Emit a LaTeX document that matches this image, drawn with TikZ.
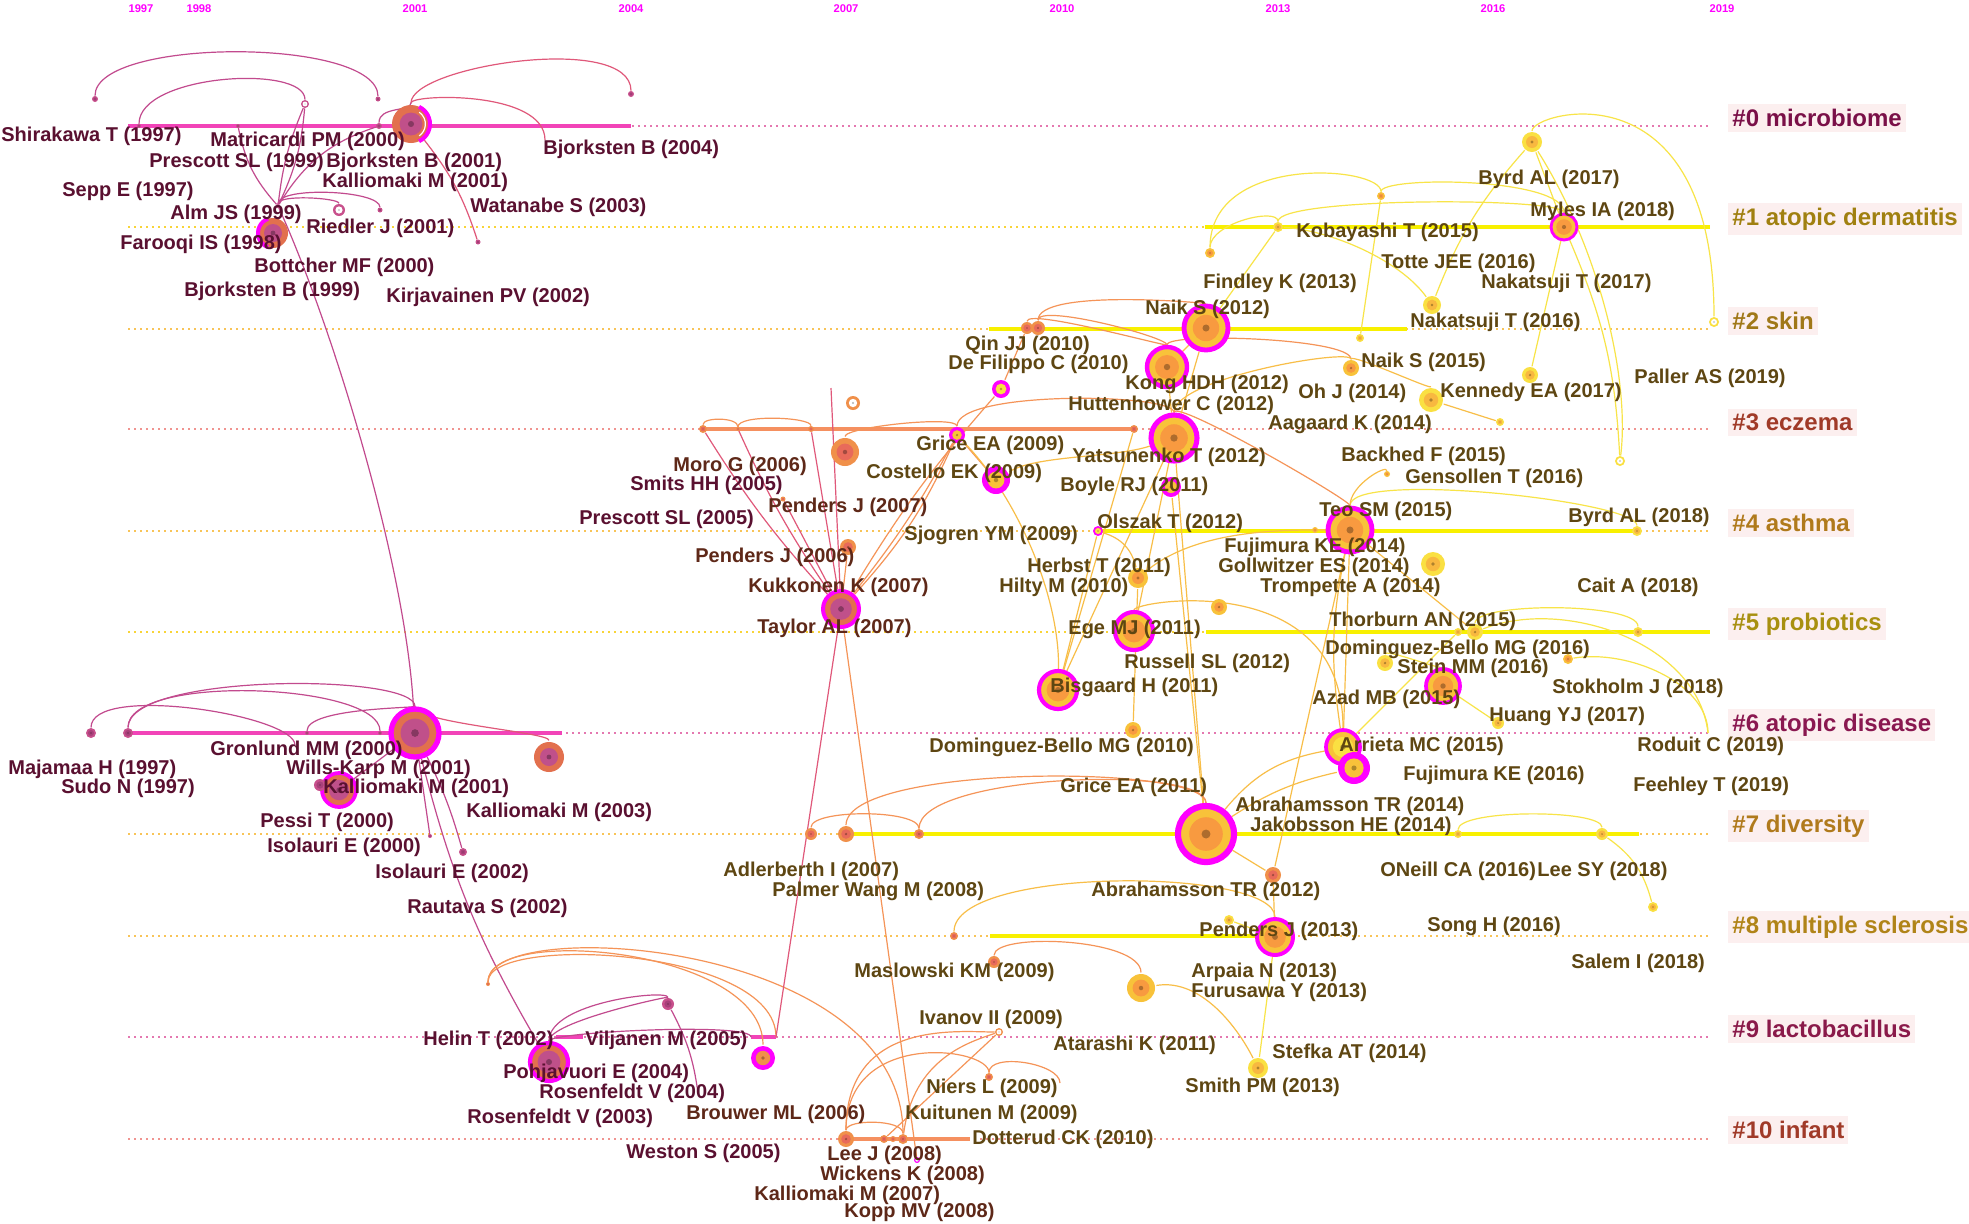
\documentclass[tikz,border=0pt]{standalone}
\usepackage{fontspec}
\setmainfont{Liberation Sans}
\pgfdeclarelayer{lanes}
\pgfdeclarelayer{arcs}
\pgfsetlayers{lanes,arcs,main}
\definecolor{mag}{HTML}{FF00FF}
\definecolor{cE}{HTML}{C8508C}
\definecolor{cEi}{HTML}{A8407A}
\definecolor{cO1}{HTML}{E2704E}
\definecolor{cI1}{HTML}{C0508A}
\definecolor{cO}{HTML}{F0904A}
\definecolor{cOi}{HTML}{E86A5A}
\definecolor{cYO}{HTML}{F8C23A}
\definecolor{cYOi}{HTML}{F89A40}
\definecolor{cY}{HTML}{FAE042}
\definecolor{cYi}{HTML}{F8B840}
\definecolor{ce0}{HTML}{C24A8E}
\definecolor{ce1}{HTML}{E0587A}
\definecolor{ceo}{HTML}{F59458}
\definecolor{ceyo}{HTML}{F8BE48}
\definecolor{cey}{HTML}{F8E448}
\definecolor{labA}{HTML}{5A1030}
\definecolor{labB}{HTML}{5E2818}
\definecolor{labC}{HTML}{5E4612}
\definecolor{cbox}{HTML}{FCEFEF}
\definecolor{k0}{HTML}{7A1048}
\definecolor{k1}{HTML}{A08010}
\definecolor{k2}{HTML}{A07818}
\definecolor{k3}{HTML}{A03A28}
\definecolor{k4}{HTML}{B07A1C}
\definecolor{k5}{HTML}{A89010}
\definecolor{k6}{HTML}{8A1850}
\definecolor{k8}{HTML}{B08418}
\definecolor{k9}{HTML}{8A1A4A}
\definecolor{dPink}{HTML}{E478B0}
\definecolor{dYel}{HTML}{F8D438}
\definecolor{dYO}{HTML}{F8C458}
\definecolor{dSal}{HTML}{F09490}
\definecolor{sMag}{HTML}{F244B8}
\definecolor{sYel}{HTML}{F8F000}
\definecolor{sOr}{HTML}{F59060}
\tikzset{
  lbl/.style={font=\fontsize{10}{12}\selectfont\bfseries, inner sep=0pt, anchor=west},
  clbl/.style={font=\fontsize{12}{14}\selectfont\bfseries, fill=cbox, inner xsep=2pt, inner ysep=2.5pt, anchor=west},
  yr/.style={font=\fontsize{5.6}{6}\selectfont\bfseries, text=mag, inner sep=0pt},
  e0/.style={draw=ce0, line width=0.6pt},
  e1/.style={draw=ce1, line width=0.6pt},
  eo/.style={draw=ceo, line width=0.6pt},
  eyo/.style={draw=ceyo, line width=0.6pt},
  ey/.style={draw=cey, line width=0.6pt},
  lanedot/.style={line width=1.1pt, dash pattern=on 1.1pt off 1.9pt},
  lanesolid/.style={line width=2pt},
}
\newcommand\citnode[7]{%
  \node[circle,inner sep=0pt,minimum size={#4*1pt},fill=#5,draw=#7,line width={#4*0.11pt}] (#1) at (#2,-#3) {};
  \fill[#6] (#2,-#3) circle ({#4*0.3pt});
  \fill[#6!70!black] (#2,-#3) circle ({#4*0.08pt});}
\newcommand\arcup[5][]{\draw[#1] (#2) .. controls +(0,#4) and +(0,#5) .. (#3);}
\newcommand\lab[5]{\node[lbl,text=#4] (#1) at (#2,-#3) {#5};}
\newcommand\clab[4]{\node[clbl,text=#3] (#1) at (1728,-#2) {#4};}
\begin{document}
\begin{tikzpicture}[x=0.5pt,y=0.5pt]
\useasboundingbox (0,0) rectangle (1969,-1223);
\begin{pgfonlayer}{lanes}
\fill[white] (0,0) rectangle (1969,-1223);
\draw[lanedot,dPink] (128,-126) -- (1710,-126);
\draw[lanedot,dYel] (128,-227) -- (1710,-227);
\draw[lanedot,dYO] (128,-329) -- (1710,-329);
\draw[lanedot,dSal] (128,-429) -- (1710,-429);
\draw[lanedot,dYO] (128,-531) -- (1710,-531);
\draw[lanedot,dYel] (128,-632) -- (1710,-632);
\draw[lanedot,dPink] (128,-733) -- (1710,-733);
\draw[lanedot,dYO] (128,-834) -- (1710,-834);
\draw[lanedot,dYO] (128,-936) -- (1710,-936);
\draw[lanedot,dPink] (128,-1037) -- (1710,-1037);
\draw[lanedot,dSal] (128,-1139) -- (1710,-1139);
\draw[lanesolid,sMag] (128,-126) -- (631,-126);
\draw[lanesolid,sYel] (1205,-227) -- (1710,-227);
\draw[lanesolid,sYel] (989,-329) -- (1407,-329);
\draw[lanesolid,sOr] (703,-429) -- (1134,-429);
\draw[lanesolid,sYel] (1100,-531) -- (1637,-531);
\draw[lanesolid,sYel] (1206,-632) -- (1710,-632);
\draw[lanesolid,sMag] (128,-733) -- (562,-733);
\draw[lanesolid,sYel] (846,-834) -- (1639,-834);
\draw[lanesolid,sYel] (990,-936) -- (1270,-936);
\draw[lanesolid,sMag] (556,-1037) -- (583,-1037);
\draw[lanesolid,sMag] (751,-1037) -- (776,-1037);
\draw[lanesolid,sOr] (846,-1139) -- (970,-1139);
\end{pgfonlayer}
% years
\node[yr] (y1997) at (141,-9) {1997};
\node[yr] (y1998) at (199,-9) {1998};
\node[yr] (y2001) at (415,-9) {2001};
\node[yr] (y2004) at (631,-9) {2004};
\node[yr] (y2007) at (846,-9) {2007};
\node[yr] (y2010) at (1062,-9) {2010};
\node[yr] (y2013) at (1278,-9) {2013};
\node[yr] (y2016) at (1493,-9) {2016};
\node[yr] (y2019) at (1722,-9) {2019};
% nodes lane 0
\citnode{n0a}{95}{99}{3}{cE}{cEi}{none}
\citnode{n0b}{305}{104}{4}{cE}{white}{none}
\citnode{n0c}{378}{99}{2.5}{cE}{cEi}{none}
\citnode{n0d}{631}{94}{3}{cE}{cEi}{none}
\citnode{n0e}{139}{126}{2}{cE}{cEi}{none}
\citnode{n0f}{238}{126}{2}{cE}{cEi}{none}
\citnode{n0g}{379}{126}{3}{cE}{cEi}{none}
\citnode{n0big}{411}{124}{19}{cO1}{cI1}{none}
\draw[mag,line width=2pt] (n0big.center) ++(65:9.5pt) arc[start angle=65,end angle=-65,radius=9.5pt];
\draw[white,line width=0.6pt] (n0big.center) ++(55:7.2pt) arc[start angle=55,end angle=-55,radius=7.2pt];
\citnode{n0far}{273}{233}{15}{cO1}{cI1}{none}
\draw[mag,line width=2pt] (n0far.center) ++(110:7.5pt) arc[start angle=110,end angle=250,radius=7.5pt];
\citnode{n0rie}{339}{210}{6}{cE}{white}{none}
\citnode{n0h}{380}{210}{2.5}{cE}{cEi}{none}
\citnode{n0i}{478}{242}{2.5}{cE}{cEi}{none}
\citnode{n0alm}{278}{206}{2}{cE}{cEi}{none}
\coordinate (n0k) at (545,-140);
% lane 1
\citnode{n1myles}{1564}{227}{13}{cYO}{cYOi}{mag}
\citnode{n1byrd}{1532}{142}{10}{cY}{cYi}{none}
\citnode{n1a}{1381}{196}{4}{cYO}{cYOi}{none}
\citnode{n1b}{1278}{227}{5}{cY}{cYi}{none}
\citnode{n1c}{1210}{253}{5}{cYO}{cYOi}{none}
% lane 2
\citnode{n2naik}{1206}{328}{22}{cYO}{cYOi}{mag}
\citnode{n2a}{1027}{328}{6}{cO}{cOi}{none}
\citnode{n2b}{1038}{328}{7}{cO}{cOi}{none}
\citnode{n2c}{1432}{305}{9}{cY}{cYi}{none}
\citnode{n2d}{1714}{322}{5}{cY}{white}{none}
\citnode{n2e}{1360}{338}{4}{cY}{cYi}{none}
\citnode{n2kong}{1167}{367}{20}{cYO}{cYOi}{mag}
\citnode{n2defil}{1001}{389}{9}{mag}{cY}{none}
\citnode{n2naik15}{1351}{368}{8}{cYO}{cYOi}{none}
\citnode{n2kenn}{1431}{400}{12}{cY}{cYi}{none}
\citnode{n2f}{1530}{375}{8}{cY}{cYi}{none}
\citnode{n2g}{1500}{422}{4}{cY}{cYi}{none}
\citnode{n2h}{1620}{461}{5}{cY}{white}{none}
% lane 3
\citnode{n3a}{703}{429}{4}{cO}{cOi}{none}
\citnode{n3b}{738}{429}{2}{cO}{cOi}{none}
\citnode{n3c}{811}{429}{3}{cO}{cOi}{none}
\citnode{n3d}{1134}{429}{4}{cO}{cOi}{none}
\citnode{n3big}{1174}{438}{23}{cYO}{cYOi}{mag}
\citnode{n3grice}{957}{435}{8}{mag}{cYO}{none}
\citnode{n3e}{845}{452}{14}{cO}{cOi}{none}
\citnode{n3f}{853}{403}{7}{cO}{white}{none}
\coordinate (n3top) at (831,-388);
% lane 4
\citnode{n4cost}{996}{480}{14}{mag}{cYO}{none}
\citnode{n4boyle}{1171}{487}{10}{mag}{cYO}{none}
\citnode{n4olszak}{1098}{531}{5}{mag}{cY}{none}
\citnode{n4pend}{848}{547}{8}{cO}{cOi}{none}
\citnode{n4f}{783}{499}{2.5}{cO}{cOi}{none}
\citnode{n4teo}{1350}{530}{22}{cYO}{cYOi}{mag}
\citnode{n4a}{1315}{530}{3}{cYO}{cYOi}{none}
\citnode{n4b}{1433}{564}{12}{cY}{cYi}{none}
\citnode{n4c}{1637}{531}{5}{cY}{cYi}{none}
\citnode{n4herbst}{1138}{578}{10}{cYO}{cYOi}{none}
\citnode{n4d}{1219}{607}{8}{cYO}{cYOi}{none}
\citnode{n4e}{1387}{474}{3}{cYO}{cYOi}{none}
% lane 5
\citnode{n5kukk}{841}{609}{18}{cO1}{cI1}{mag}
\citnode{n5ege}{1134}{631}{19}{cYO}{cYOi}{mag}
\citnode{n5bis}{1058}{690}{19}{cYO}{cYOi}{mag}
\citnode{n5a}{1458}{632}{4}{cY}{cYi}{none}
\citnode{n5b}{1475}{632}{8}{cY}{cYi}{none}
\citnode{n5c}{1638}{632}{5}{cY}{cYi}{none}
\citnode{n5dbm}{1385}{663}{8}{cY}{cYi}{none}
\citnode{n5d}{1568}{659}{5}{cYO}{cYOi}{none}
\citnode{n5stein}{1443}{686}{17}{cYO}{cYOi}{mag}
\citnode{n5huang}{1498}{723}{6}{cY}{cYi}{none}
\citnode{n5dbm10}{1133}{730}{8}{cYO}{cYOi}{none}
% lane 6
\citnode{n6a}{91}{733}{5}{cE}{cEi}{none}
\citnode{n6b}{128}{733}{5}{cE}{cEi}{none}
\citnode{n6c}{307}{733}{2}{cE}{cEi}{none}
\citnode{n6d}{380}{733}{2}{cE}{cEi}{none}
\citnode{n6big}{415}{733}{24}{cO1}{cI1}{mag}
\citnode{n6e}{549}{757}{15}{cO1}{cI1}{none}
\citnode{n6pessi}{339}{790}{17}{cO1}{cI1}{mag}
\citnode{n6f}{320}{785}{6}{cE}{cEi}{none}
\citnode{n6arr}{1343}{747}{17}{cYO}{cY}{mag}
\citnode{n6fuji}{1354}{768}{16}{mag}{cYO}{none}
\coordinate (n6g) at (295,-745);
\coordinate (n6r) at (1708,-733);
% lane 7
\citnode{n7a}{811}{834}{6}{cO}{cOi}{none}
\citnode{n7b}{846}{834}{8}{cO}{cOi}{none}
\citnode{n7c}{919}{834}{5}{cO}{cOi}{none}
\citnode{n7jak}{1206}{834}{28}{cYO}{cYOi}{mag}
\citnode{n7d}{1273}{875}{8}{cO}{cOi}{none}
\citnode{n7e}{1458}{834}{4}{cY}{cYi}{none}
\citnode{n7f}{1602}{834}{6}{cY}{cYi}{none}
\citnode{n7g}{1653}{907}{5}{cY}{cYi}{none}
% lane 8
\citnode{n8a}{954}{936}{4}{cO}{cOi}{none}
\citnode{n8pend}{1275}{937}{18}{cYO}{cYOi}{mag}
\citnode{n8b}{1229}{920}{5}{cY}{cYi}{none}
\citnode{n8mas}{994}{962}{6}{cO}{cOi}{none}
\citnode{n8c}{1141}{988}{14}{cYO}{cYOi}{none}
\citnode{n8smith}{1258}{1068}{10}{cY}{cYi}{none}
% lane 9
\citnode{n9poh}{549}{1062}{19}{cO1}{cI1}{mag}
\citnode{n9a}{668}{1004}{6}{cE}{cEi}{none}
\citnode{n9b}{763}{1058}{12}{mag}{cO}{none}
\citnode{n9iv}{999}{1032}{4}{cO}{white}{none}
\citnode{n9niers}{989}{1077}{4}{cO}{cOi}{none}
\citnode{n9c}{430}{836}{2}{cE}{cEi}{none}
\citnode{n9d}{463}{852}{4}{cE}{cEi}{none}
\citnode{n9e}{488}{984}{2}{cO}{cOi}{none}
\coordinate (n9s) at (751,-1037);
\coordinate (n9t) at (776,-1037);
\coordinate (n9u) at (698,-1093);
% lane 10
\citnode{n10a}{846}{1139}{8}{cO}{cOi}{none}
\citnode{n10b}{884}{1139}{4}{cO}{cOi}{none}
\citnode{n10c}{893}{1139}{3}{cO}{cOi}{none}
\citnode{n10d}{903}{1139}{5}{cO}{cOi}{none}
\citnode{n10lee}{917}{1160}{3}{mag}{white}{none}
\coordinate (n10e) at (1060,-1083);
% connectors
\begin{pgfonlayer}{arcs}
\arcup[e0]{n0a}{n0c}{62}{62}
\arcup[e0]{n0e}{n0b}{52}{40}
\draw[e0] (n0alm) to[bend left=8] (n0b);
\draw[e0] (n0alm) to[bend right=10] (n0b);
\draw[e0] (n0alm) to[bend left=15] (n0f);
\draw[e0] (n0alm) to[bend left=20] (n0g);
\arcup[e0]{n0alm}{n0h}{20}{20}
\arcup[e0]{n0alm}{n0rie}{12}{12}
\arcup[e1]{n0big}{n0d}{58}{62}
\arcup[e1]{n0big}{n0k}{30}{50}
\arcup[e0]{n0g}{n0big}{20}{12}
\draw[e1] (n0big) to[bend left=10] (n0i);
\draw[e0] (n0alm) .. controls (330,-320) and (405,-560) .. (n6big);
\arcup[e0]{n6a}{n6g}{50}{30}
\arcup[e0]{n6b}{n6big}{60}{60}
\arcup[e0]{n6b}{n6d}{60}{50}
\arcup[e0]{n6c}{n6big}{25}{25}
\arcup[e1]{n6big}{n6e}{10}{25}
\draw[e0] (n6big) to[bend right=8] (n9poh);
\draw[e0] (n6big) to[bend left=5] (n9d);
\draw[e0] (n6big) -- (n9c);
\draw[e0] (n6pessi) -- (n6big);
\arcup[e0]{n9poh}{n9a}{60}{15}
\arcup[e0]{n9poh}{n9a}{40}{8}
\arcup[e0]{n9poh}{n9s}{30}{15}
\draw[e0] (n9a) to[bend left=10] (n9u);
\arcup[eo]{n9e}{n10d}{70}{200}
\arcup[eo]{n9e}{n9b}{60}{110}
\arcup[eo]{n9e}{n9t}{50}{90}
\draw[eo] (n10a) .. controls +(0,120) and +(-40,0) .. (n9iv);
\draw[eo] (n10d) .. controls +(10,80) and +(-30,-10) .. (n9iv);
\arcup[eo]{n10a}{n9niers}{110}{30}
\arcup[eo]{n9niers}{n10e}{25}{20}
\arcup[eo]{n10a}{n10d}{20}{20}
\draw[eo] (n10b) -- (n9iv);
\arcup[eo]{n3a}{n3b}{12}{12}
\arcup[eo]{n3b}{n3c}{15}{12}
\draw[e1] (n3a) to[bend right=5] (n5kukk);
\draw[e1] (n3b) to[bend right=5] (n5kukk);
\draw[e1] (n3c) -- (n5kukk);
\draw[e1] (n4f) -- (n5kukk);
\draw[e1] (n3top) -- (n5kukk);
\draw[e1] (n5kukk) -- (n9t);
\draw[eo] (n5kukk) -- (n10lee);
\draw[eo] (n5kukk) to[bend right=5] (n3grice);
\draw[eo] (n5kukk) to[bend right=9] (n3grice);
\draw[eo] (n2defil) to[bend right=5] (n5kukk);
\arcup[eo]{n3e}{n3grice}{25}{20}
\draw[eo] (n4pend) -- (n5kukk);
\arcup[eo]{n2a}{n2kong}{20}{20}
\arcup[eo]{n2b}{n2kong}{25}{30}
\arcup[eo]{n2b}{n2naik}{40}{25}
\draw[eo] (n2defil) -- (n2a);
\arcup[eo]{n3grice}{n3big}{45}{45}
\draw[eo] (n3grice) -- (n4cost);
\draw[eyo] (n4cost) .. controls +(40,25) and +(-60,-20) .. (n3big);
\arcup[eo]{n2kong}{n2naik15}{35}{30}
\arcup[eyo]{n3big}{n2naik15}{60}{20}
\arcup[eyo]{n2naik15}{n2kenn}{15}{10}
\draw[eyo] (n2kenn) -- (n2g);
\arcup[eo]{n3big}{n4teo}{40}{30}
\draw[eyo] (n3big) -- (n2kong);
\draw[eyo] (n3big) -- (n2naik);
\draw[eyo] (n2kong) -- (n2naik);
\draw[eyo] (n3big) -- (n7jak);
\draw[eyo] (n4boyle) -- (n7jak);
\draw[eyo] (n3big) -- (n5ege);
\draw[eyo] (n3big) -- (n5bis);
\draw[eyo] (n3d) -- (n5bis);
\draw[eyo] (n3grice) .. controls (1020,-500) and (1060,-600) .. (n5bis);
\draw[eyo] (n4olszak) -- (n5bis);
\draw[eyo] (n4herbst) -- (n5dbm10);
\draw[eyo] (n4herbst) .. controls +(60,50) and +(-60,0) .. (n4teo);
\draw[eyo] (n4olszak) to[bend left=30] (n4herbst);
\arcup[eyo]{n5ege}{n6arr}{30}{180}
\draw[eyo] (n4teo) -- (n6arr);
\draw[eyo] (n4teo) to[bend right=10] (n6arr);
\draw[eyo] (n4teo) -- (n7d);
\draw[eyo] (n4teo) -- (n5b);
\arcup[ey]{n4teo}{n4c}{60}{30}
\arcup[eyo]{n4teo}{n4e}{45}{10}
\draw[ey] (n6arr) -- (n5a);
\arcup[ey]{n5dbm}{n5stein}{15}{15}
\draw[ey] (n5stein) -- (n5huang);
\arcup[ey]{n5b}{n5c}{30}{30}
\draw[ey] (n5b) .. controls +(90,35) and +(-10,90) .. (n6r);
\draw[ey] (n5d) .. controls +(60,10) and +(0,50) .. (n6r);
\draw[eyo] (n7jak) to[bend left=20] (n6arr);
\draw[eyo] (n7jak) to[bend left=10] (n6fuji);
\arcup[eo]{n7a}{n7c}{25}{25}
\arcup[eo]{n7b}{n7jak}{70}{70}
\arcup[eo]{n7c}{n7jak}{60}{70}
\draw[eyo] (n7jak) -- (n7d);
\draw[eyo] (n7d) -- (n8pend);
\arcup[ey]{n7e}{n7f}{25}{25}
\draw[ey] (n7f) to[bend left=20] (n7g);
\arcup[eyo]{n8a}{n8pend}{70}{70}
\arcup[eo]{n8mas}{n8c}{30}{50}
\draw[eyo] (n8c) .. controls +(60,10) and +(-20,40) .. (n8smith);
\draw[ey] (n8pend) -- (n8smith);
\draw[ey] (n8b) -- (n8pend);
\arcup[ey]{n1c}{n1a}{100}{30}
\arcup[ey]{n1c}{n1b}{30}{20}
\arcup[ey]{n1b}{n1myles}{30}{30}
\arcup[ey]{n1a}{n1myles}{20}{50}
\arcup[ey]{n1byrd}{n2d}{30}{260}
\draw[ey] (n1byrd) -- (n1myles);
\draw[ey] (n1byrd) to[bend right=10] (n2c);
\draw[ey] (n1byrd) .. controls (1600,-250) and (1630,-380) .. (n2h);
\draw[ey] (n1myles) -- (n2f);
\draw[ey] (n1myles) to[bend left=10] (n2h);
\draw[ey] (n1b) .. controls (1330,-230) and (1400,-260) .. (n2c);
\draw[ey] (n2e) -- (n1a);
\draw[ey] (n1b) -- (n2naik);
\end{pgfonlayer}
% cluster labels
\clab{c0}{118}{k0}{\#0 microbiome}
\clab{c1}{219}{k1}{\#1 atopic dermatitis}
\clab{c2}{321}{k2}{\#2 skin}
\clab{c3}{422}{k3}{\#3 eczema}
\clab{c4}{523}{k4}{\#4 asthma}
\clab{c5}{624}{k5}{\#5 probiotics}
\clab{c6}{725}{k6}{\#6 atopic disease}
\clab{c7}{826}{k4}{\#7 diversity}
\clab{c8}{927}{k8}{\#8 multiple sclerosis}
\clab{c9}{1029}{k9}{\#9 lactobacillus}
\clab{c10}{1130}{k3}{\#10 infant}
% labels A
\lab{lShira}{1}{136}{labA}{Shirakawa T (1997)}
\lab{lMatri}{210}{141}{labA}{Matricardi PM (2000)}
\lab{lPres99}{149}{162}{labA}{Prescott SL (1999)}
\lab{lBjo01}{326}{162}{labA}{Bjorksten B (2001)}
\lab{lKal01a}{322}{182}{labA}{Kalliomaki M (2001)}
\lab{lSepp}{62}{191}{labA}{Sepp E (1997)}
\lab{lWata}{470}{207}{labA}{Watanabe S (2003)}
\lab{lAlm}{170}{214}{labA}{Alm JS (1999)}
\lab{lRied}{306}{228}{labA}{Riedler J (2001)}
\lab{lFaro}{120}{244}{labA}{Farooqi IS (1998)}
\lab{lBott}{254}{267}{labA}{Bottcher MF (2000)}
\lab{lBjo99}{184}{291}{labA}{Bjorksten B (1999)}
\lab{lKirj}{386}{297}{labA}{Kirjavainen PV (2002)}
\lab{lBjo04}{543}{149}{labA}{Bjorksten B (2004)}
\lab{lGron}{210}{750}{labA}{Gronlund MM (2000)}
\lab{lMaja}{8}{769}{labA}{Majamaa H (1997)}
\lab{lWills}{286}{769}{labA}{Wills-Karp M (2001)}
\lab{lSudo}{61}{788}{labA}{Sudo N (1997)}
\lab{lKal01b}{323}{788}{labA}{Kalliomaki M (2001)}
\lab{lKal03}{466}{812}{labA}{Kalliomaki M (2003)}
\lab{lPessi}{260}{822}{labA}{Pessi T (2000)}
\lab{lIso00}{267}{847}{labA}{Isolauri E (2000)}
\lab{lIso02}{375}{873}{labA}{Isolauri E (2002)}
\lab{lRaut}{407}{908}{labA}{Rautava S (2002)}
\lab{lHelin}{423}{1040}{labA}{Helin T (2002)}
\lab{lVilj}{585}{1040}{labA}{Viljanen M (2005)}
\lab{lPohj}{503}{1073}{labA}{Pohjavuori E (2004)}
\lab{lRos04}{539}{1093}{labA}{Rosenfeldt V (2004)}
\lab{lRos03}{467}{1118}{labA}{Rosenfeldt V (2003)}
\lab{lWest}{626}{1153}{labA}{Weston S (2005)}
\lab{lSmits}{630}{485}{labA}{Smits HH (2005)}
\lab{lPres05}{579}{519}{labA}{Prescott SL (2005)}
% labels B
\lab{lMoro}{673}{466}{labB}{Moro G (2006)}
\lab{lPen07}{768}{507}{labB}{Penders J (2007)}
\lab{lPen06}{695}{557}{labB}{Penders J (2006)}
\lab{lKukk}{748}{587}{labB}{Kukkonen K (2007)}
\lab{lTayl}{757}{628}{labB}{Taylor AL (2007)}
\lab{lBrou}{686}{1114}{labB}{Brouwer ML (2006)}
\lab{lKal07}{754}{1195}{labB}{Kalliomaki M (2007)}
\lab{lLeeJ}{827}{1155}{labB}{Lee J (2008)}
\lab{lWick}{820}{1175}{labB}{Wickens K (2008)}
\lab{lKopp}{844}{1212}{labB}{Kopp MV (2008)}
\lab{lAdl}{723}{871}{labC}{Adlerberth I (2007)}
\lab{lPalm}{772}{891}{labC}{Palmer Wang M (2008)}
% labels C
\lab{lByrd17}{1478}{179}{labC}{Byrd AL (2017)}
\lab{lMyles}{1530}{211}{labC}{Myles IA (2018)}
\lab{lKoba}{1296}{232}{labC}{Kobayashi T (2015)}
\lab{lTotte}{1381}{263}{labC}{Totte JEE (2016)}
\lab{lFind}{1203}{283}{labC}{Findley K (2013)}
\lab{lNak17}{1481}{283}{labC}{Nakatsuji T (2017)}
\lab{lNaik12}{1145}{309}{labC}{Naik S (2012)}
\lab{lNak16}{1410}{322}{labC}{Nakatsuji T (2016)}
\lab{lQin}{965}{345}{labC}{Qin JJ (2010)}
\lab{lNaik15}{1361}{362}{labC}{Naik S (2015)}
\lab{lDeFil}{948}{364}{labC}{De Filippo C (2010)}
\lab{lPaller}{1634}{378}{labC}{Paller AS (2019)}
\lab{lKong}{1125}{384}{labC}{Kong HDH (2012)}
\lab{lOhJ}{1298}{393}{labC}{Oh J (2014)}
\lab{lKenn}{1440}{392}{labC}{Kennedy EA (2017)}
\lab{lHutt}{1068}{405}{labC}{Huttenhower C (2012)}
\lab{lAaga}{1268}{424}{labC}{Aagaard K (2014)}
\lab{lGri09}{916}{445}{labC}{Grice EA (2009)}
\lab{lBack}{1341}{456}{labC}{Backhed F (2015)}
\lab{lYats}{1072}{457}{labC}{Yatsunenko T (2012)}
\lab{lCost}{866}{473}{labC}{Costello EK (2009)}
\lab{lGens}{1405}{478}{labC}{Gensollen T (2016)}
\lab{lBoyle}{1060}{486}{labC}{Boyle RJ (2011)}
\lab{lTeo}{1319}{511}{labC}{Teo SM (2015)}
\lab{lByrd18}{1568}{517}{labC}{Byrd AL (2018)}
\lab{lOlsz}{1097}{523}{labC}{Olszak T (2012)}
\lab{lSjog}{904}{535}{labC}{Sjogren YM (2009)}
\lab{lFuj14}{1224}{547}{labC}{Fujimura KE (2014)}
\lab{lHerb}{1027}{567}{labC}{Herbst T (2011)}
\lab{lGoll}{1218}{567}{labC}{Gollwitzer ES (2014)}
\lab{lHilty}{999}{587}{labC}{Hilty M (2010)}
\lab{lTromp}{1260}{587}{labC}{Trompette A (2014)}
\lab{lCait}{1577}{587}{labC}{Cait A (2018)}
\lab{lThor}{1329}{621}{labC}{Thorburn AN (2015)}
\lab{lEge}{1068}{629}{labC}{Ege MJ (2011)}
\lab{lDB16}{1325}{649}{labC}{Dominguez-Bello MG (2016)}
\lab{lRuss}{1124}{663}{labC}{Russell SL (2012)}
\lab{lStein}{1397}{668}{labC}{Stein MM (2016)}
\lab{lBisg}{1050}{687}{labC}{Bisgaard H (2011)}
\lab{lStok}{1552}{688}{labC}{Stokholm J (2018)}
\lab{lAzad}{1312}{699}{labC}{Azad MB (2015)}
\lab{lHuang}{1489}{716}{labC}{Huang YJ (2017)}
\lab{lDB10}{929}{747}{labC}{Dominguez-Bello MG (2010)}
\lab{lArr}{1339}{746}{labC}{Arrieta MC (2015)}
\lab{lRod}{1637}{746}{labC}{Roduit C (2019)}
\lab{lFuj16}{1403}{775}{labC}{Fujimura KE (2016)}
\lab{lFeeh}{1633}{786}{labC}{Feehley T (2019)}
\lab{lGri11}{1060}{787}{labC}{Grice EA (2011)}
\lab{lAbr14}{1235}{806}{labC}{Abrahamsson TR (2014)}
\lab{lJak}{1250}{826}{labC}{Jakobsson HE (2014)}
\lab{lONeill}{1380}{871}{labC}{ONeill CA (2016)}
\lab{lLeeSY}{1537}{871}{labC}{Lee SY (2018)}
\lab{lAbr12}{1091}{891}{labC}{Abrahamsson TR (2012)}
\lab{lSong}{1427}{926}{labC}{Song H (2016)}
\lab{lPen13}{1199}{931}{labC}{Penders J (2013)}
\lab{lMasl}{854}{972}{labC}{Maslowski KM (2009)}
\lab{lArp}{1191}{972}{labC}{Arpaia N (2013)}
\lab{lSalem}{1571}{963}{labC}{Salem I (2018)}
\lab{lFuru}{1191}{992}{labC}{Furusawa Y (2013)}
\lab{lIvan}{919}{1019}{labC}{Ivanov II (2009)}
\lab{lAtar}{1053}{1045}{labC}{Atarashi K (2011)}
\lab{lStef}{1272}{1053}{labC}{Stefka AT (2014)}
\lab{lSmith}{1185}{1087}{labC}{Smith PM (2013)}
\lab{lNiers}{926}{1088}{labC}{Niers L (2009)}
\lab{lKuit}{905}{1114}{labC}{Kuitunen M (2009)}
\lab{lDott}{972}{1139}{labC}{Dotterud CK (2010)}
\end{tikzpicture}
\end{document}
